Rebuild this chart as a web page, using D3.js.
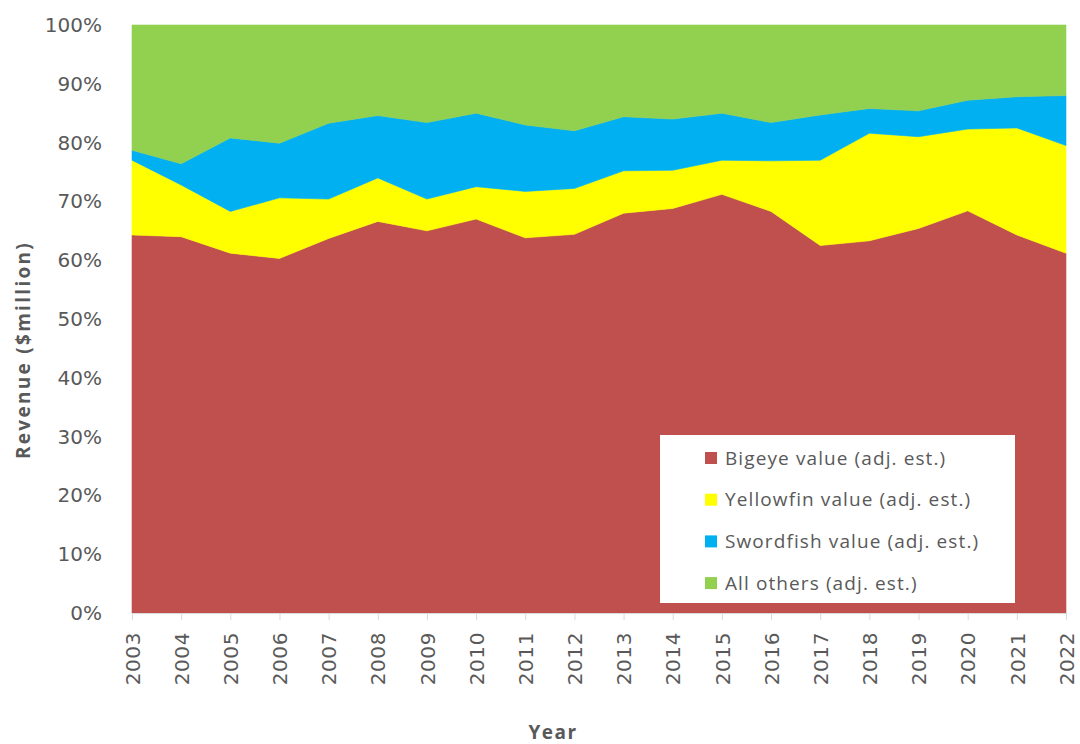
<!DOCTYPE html>
<html>
<head>
<meta charset="utf-8">
<script src="https://cdn.jsdelivr.net/npm/d3@7"></script>
<style>
  html, body { margin: 0; padding: 0; background: #fff; }
  svg { display: block; }
</style>
</head>
<body>
<svg id="chart" width="1080" height="744"></svg>
<script>
// Revenue share by species, 2003–2022 (percent of annual total)
const years = [2003, 2004, 2005, 2006, 2007, 2008, 2009, 2010, 2011, 2012,
               2013, 2014, 2015, 2016, 2017, 2018, 2019, 2020, 2021, 2022];
const bigeye    = [64.3, 64.0, 61.2, 60.3, 63.7, 66.6, 65.0, 67.0, 63.8, 64.4,
                   68.0, 68.8, 71.2, 68.3, 62.5, 63.3, 65.4, 68.4, 64.3, 61.2];
const yellowfin = [12.7, 8.8, 7.1, 10.3, 6.7, 7.4, 5.4, 5.5, 7.9, 7.8,
                   7.2, 6.5, 5.8, 8.6, 14.5, 18.3, 15.6, 13.9, 18.2, 18.3];
const swordfish = [1.7, 3.6, 12.5, 9.3, 12.9, 10.6, 13.0, 12.5, 11.3, 9.8,
                   9.2, 8.7, 8.0, 6.5, 7.7, 4.2, 4.4, 4.9, 5.3, 8.5];
const others    = [21.3, 23.6, 19.2, 20.1, 16.7, 15.4, 16.6, 15.0, 17.0, 18.0,
                   15.6, 16.0, 15.0, 16.6, 15.3, 14.2, 14.6, 12.8, 12.2, 12.0];
const seriesNames = ["Bigeye value (adj. est.)", "Yellowfin value (adj. est.)",
                     "Swordfish value (adj. est.)", "All others (adj. est.)"];
const seriesColors = ["#C0504D", "#FFFF00", "#00B0F0", "#92D050"];
const yTicks = [0, 0.1, 0.2, 0.3, 0.4, 0.5, 0.6, 0.7, 0.8, 0.9, 1.0];

const keys = ["bigeye", "yellowfin", "swordfish", "others"];
const rows = years.map((yr, i) => ({
  year: yr, bigeye: bigeye[i], yellowfin: yellowfin[i],
  swordfish: swordfish[i], others: others[i]
}));

const svg = d3.select("#chart");
const plot = { left: 132, right: 1066, top: 25, bottom: 613 };

const x = d3.scaleLinear().domain(d3.extent(years)).range([plot.left, plot.right]);
const y = d3.scaleLinear().domain([0, 1]).range([plot.bottom, plot.top]);

const stack = d3.stack().keys(keys).offset(d3.stackOffsetExpand);
const layers = stack(rows);

const area = d3.area()
  .x(d => x(d.data.year))
  .y0(d => y(d[0]))
  .y1(d => y(d[1]));

svg.append("g").selectAll("path")
  .data(layers)
  .join("path")
  .attr("d", area)
  .attr("fill", (d, i) => seriesColors[i])
  .attr("stroke", (d, i) => seriesColors[i])
  .attr("stroke-width", 0.6);

const textColor = "#595959";

// Y axis: percent labels only
const yAxis = d3.axisLeft(y).tickValues(yTicks).tickFormat(d3.format(".0%"))
  .tickSize(0).tickPadding(30);
const gy = svg.append("g").attr("transform", `translate(${plot.left},0)`).call(yAxis);
gy.select(".domain").remove();
gy.selectAll("text")
  .attr("font-family", "DejaVu Sans")
  .attr("font-size", 20)
  .attr("fill", textColor);

// X axis: year labels rotated vertically, light tick marks
const xAxis = d3.axisBottom(x).tickValues(years).tickFormat(d3.format("d"))
  .tickSize(7).tickPadding(8);
const gx = svg.append("g").attr("transform", `translate(0,${plot.bottom})`).call(xAxis);
gx.select(".domain").attr("stroke", "#d9d9d9");
gx.selectAll(".tick line").attr("stroke", "#d9d9d9");
gx.selectAll("text")
  .attr("font-family", "DejaVu Sans")
  .attr("font-size", 20)
  .attr("letter-spacing", 0.6)
  .attr("fill", textColor)
  .attr("transform", "rotate(-90)")
  .attr("text-anchor", "end")
  .attr("dy", "0.36em")
  .attr("x", -19)
  .attr("y", 0);

// Axis titles
svg.append("text")
  .attr("transform", "translate(30,350) rotate(-90)")
  .attr("text-anchor", "middle")
  .attr("font-family", "Open Sans")
  .attr("font-weight", "bold")
  .attr("font-size", 19)
  .attr("letter-spacing", 2.3)
  .attr("fill", textColor)
  .text("Revenue ($million)");

svg.append("text")
  .attr("x", 553)
  .attr("y", 739)
  .attr("text-anchor", "middle")
  .attr("font-family", "Open Sans")
  .attr("font-weight", "bold")
  .attr("font-size", 19)
  .attr("letter-spacing", 1.5)
  .attr("fill", textColor)
  .text("Year");

// Legend
const legend = svg.append("g").attr("transform", "translate(660,435)");
legend.append("rect")
  .attr("width", 355).attr("height", 168)
  .attr("fill", "#fff");
const items = legend.selectAll("g.item")
  .data(seriesNames)
  .join("g")
  .attr("class", "item")
  .attr("transform", (d, i) => `translate(45,${23 + i * 41.7})`);
items.append("rect")
  .attr("x", 0).attr("y", -6)
  .attr("width", 12).attr("height", 12)
  .attr("fill", (d, i) => seriesColors[i]);
items.append("text")
  .attr("x", 20).attr("y", 0).attr("dy", "0.35em")
  .attr("font-family", "Open Sans")
  .attr("font-size", 19)
  .attr("letter-spacing", 1.1)
  .attr("fill", textColor)
  .text(d => d);
</script>
</body>
</html>
